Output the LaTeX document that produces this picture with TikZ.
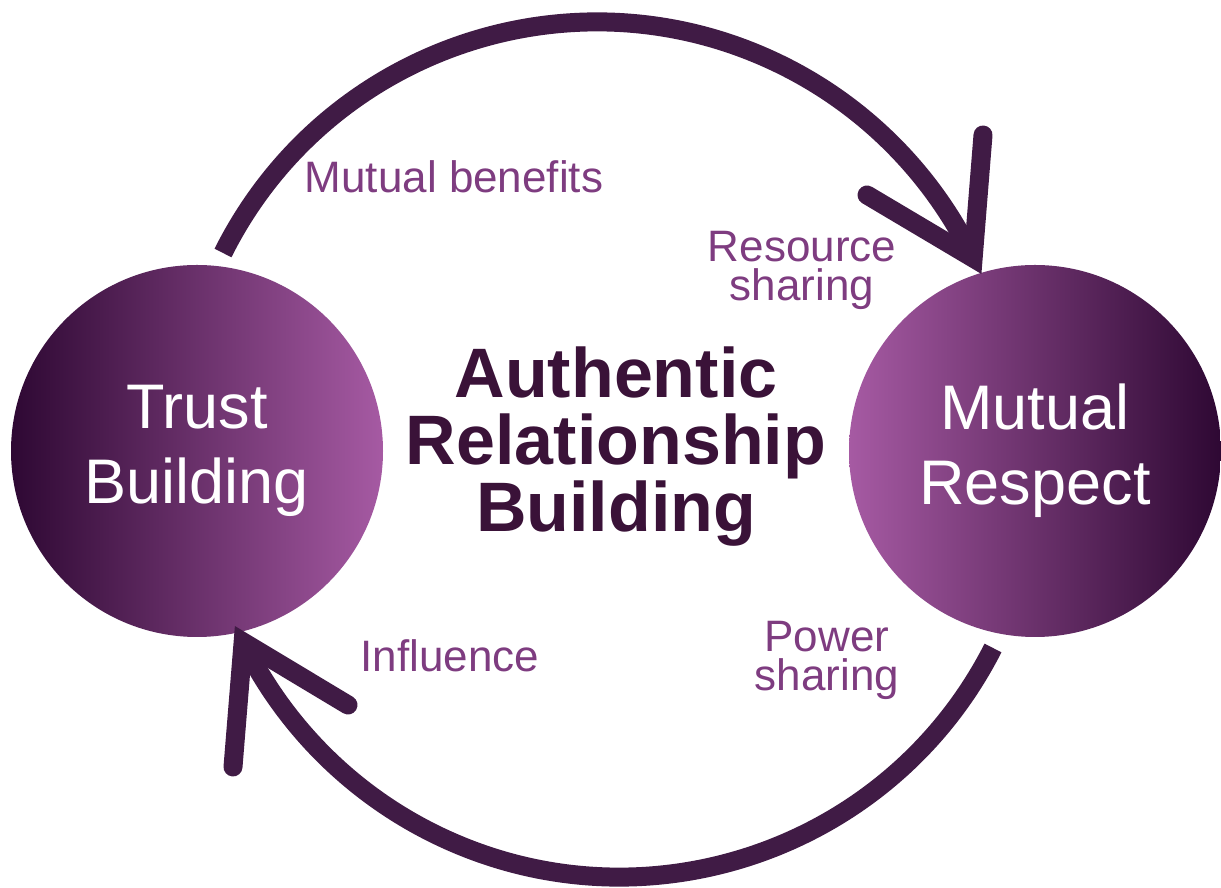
\documentclass[tikz,border=0pt]{standalone}
\usepackage{fontspec}
\setmainfont{Liberation Sans}
\definecolor{arcpurple}{HTML}{401B45}
\definecolor{titlepurple}{HTML}{3A1238}
\definecolor{labelpurple}{HTML}{7E3C80}
\definecolor{hubdark}{HTML}{2E0833}
\definecolor{hublight}{HTML}{A65AA3}
\begin{document}
\begin{tikzpicture}[x=1pt,y=1pt,
  hub/.style={circle, minimum size=372pt, inner sep=0pt, draw=none,
    text=white, align=center, font=\fontsize{63}{75}\selectfont},
  cycleline/.style={draw=arcpurple, line width=19pt, line cap=butt},
  headline/.style={draw=arcpurple, line width=19pt, line cap=round, line join=miter},
  steplabel/.style={text=labelpurple, align=center, inner sep=0pt, anchor=north,
    font=\fontsize{44}{39}\selectfont},
  titletext/.style={text=titlepurple, align=center, inner sep=0pt, anchor=north,
    font=\bfseries\fontsize{70}{67}\selectfont}]
\useasboundingbox (0,0) rectangle (1221,888);

% the two hubs
\node[hub, left color=hubdark, right color=hublight] (trust) at (197,437) {Trust\\Building};
\node[hub, left color=hublight, right color=hubdark] (respect) at (1035,437) {Mutual\\Respect};

% central title
\node[titletext] (title) at (616,541) {Authentic\\Relationship\\Building};

% upper arc: trust -> respect
\coordinate (topStart) at (223,635);
\draw[cycleline] (topStart) arc[start angle=153.43, end angle=25.8, radius=418] coordinate (topTip);
\coordinate (topArmA) at (983,753);
\coordinate (topArmB) at (867,693);
\draw[headline] (topArmA) -- (topTip) -- (topArmB);

% lower arc: respect -> trust
\coordinate (botStart) at (993,240);
\draw[cycleline] (botStart) arc[start angle=-26.96, end angle=-153.95, radius=419] coordinate (botTip);
\coordinate (botArmA) at (233,121);
\coordinate (botArmB) at (348,183);
\draw[headline] (botArmA) -- (botTip) -- (botArmB);

% labels along the cycle
\node[steplabel, anchor=base] (benefits) at (454,695) {Mutual benefits};
\node[steplabel] (resource) at (802,656.5) {Resource\\sharing};
\node[steplabel] (power) at (827,266.5) {Power\\sharing};
\node[steplabel, anchor=base] (influence) at (450,216) {Influence};
\end{tikzpicture}
\end{document}
